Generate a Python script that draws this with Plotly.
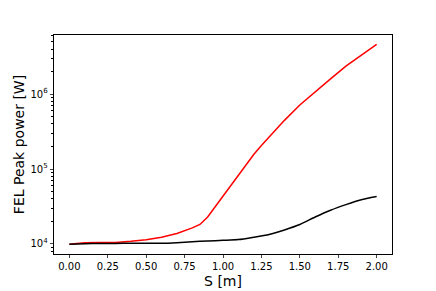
import plotly.graph_objects as go

s_red = [0.0, 0.1, 0.2, 0.3, 0.4, 0.5, 0.6, 0.7, 0.8, 0.85, 0.9, 0.95, 1.0, 1.05, 1.1, 1.15, 1.2, 1.25,
         1.3, 1.4, 1.5, 1.6, 1.7, 1.8, 1.9, 2.0]
power_red = [9.9e3, 1.035e4, 1.045e4, 1.05e4, 1.085e4, 1.135e4, 1.23e4, 1.38e4, 1.64e4, 1.82e4, 2.29e4, 3.16e4,
             4.47e4, 6.17e4, 8.51e4, 1.175e5, 1.567e5, 2.065e5, 2.69e5, 4.47e5, 7.16e5, 1.084e6, 1.603e6,
             2.371e6, 3.311e6, 4.62e6]

s_black = [0.0, 0.1, 0.2, 0.3, 0.4, 0.5, 0.6, 0.7, 0.8, 0.9, 1.0, 1.1, 1.2, 1.3, 1.4, 1.5, 1.6, 1.7, 1.8, 1.9, 2.0]
power_black = [9.93e3, 1.007e4, 1.014e4, 1.018e4, 1.02e4, 1.023e4, 1.023e4, 1.042e4, 1.07e4, 1.096e4,
               1.117e4, 1.143e4, 1.23e4, 1.34e4, 1.54e4, 1.82e4, 2.29e4, 2.82e4, 3.35e4, 3.89e4, 4.29e4]

x_ticks = [0.0, 0.25, 0.5, 0.75, 1.0, 1.25, 1.5, 1.75, 2.0]
y_major = [1e4, 1e5, 1e6]
y_major_text = ["10<sup>4</sup>", "10<sup>5</sup>", "10<sup>6</sup>"]
y_minor = [m * 10 ** e for e in (3, 4, 5, 6) for m in range(2, 10)]

y_range_log = [3.866, 6.79]
x_range = [-0.1, 2.1]

fig = go.Figure()
fig.add_trace(go.Scatter(x=s_red, y=power_red, mode="lines", line=dict(color="#ff0000", width=1.5),
                         showlegend=False))
fig.add_trace(go.Scatter(x=s_black, y=power_black, mode="lines",
                         line=dict(color="#000000", width=1.5, shape="spline", smoothing=0.6), showlegend=False))
fig.add_trace(go.Scatter(x=[None], y=[None], yaxis="y2", showlegend=False, hoverinfo="skip"))

fig.update_layout(
    width=436, height=291,
    margin=dict(l=54, r=44, t=35, b=37),
    paper_bgcolor="white", plot_bgcolor="white",
    font=dict(family="DejaVu Sans", size=10, color="black"),
    xaxis=dict(range=x_range, tickvals=x_ticks, tickformat=".2f", ticks="outside", ticklen=3.5, tickwidth=0.8,
               showline=True, linecolor="black", linewidth=0.8, mirror=True, showgrid=False, zeroline=False,
               automargin=False,
               title=dict(text="S [m]", font=dict(size=14, family="DejaVu Sans", color="black"), standoff=4),
               tickfont=dict(size=10)),
    yaxis=dict(type="log", range=y_range_log, tickvals=y_major, ticktext=y_major_text, ticks="outside",
               ticklen=3.5, tickwidth=0.8, showline=True, linecolor="black", linewidth=0.8, mirror=True,
               showgrid=False, zeroline=False, automargin=False,
               title=dict(text="FEL Peak power [W]", font=dict(size=14, family="DejaVu Sans", color="black"),
                          standoff=2),
               tickfont=dict(size=10)),
    yaxis2=dict(type="log", range=y_range_log, overlaying="y", side="left", tickvals=y_minor,
                showticklabels=False, ticks="outside", ticklen=2, tickwidth=0.6, tickcolor="black",
                showgrid=False, zeroline=False, showline=False, anchor="x", automargin=False),
)

fig.write_html("out.html", config={"displayModeBar": False},
               post_script="document.body.style.margin='0px';document.body.style.overflow='hidden';")
